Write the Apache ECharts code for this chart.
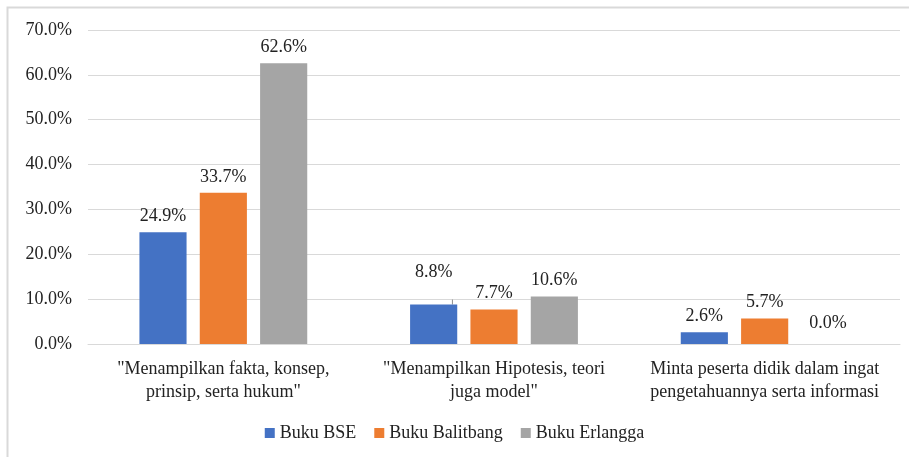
<!DOCTYPE html>
<html>
<head>
<meta charset="utf-8">
<script src="https://cdn.jsdelivr.net/npm/echarts@6/dist/echarts.min.js"></script>
<style>
html, body { margin: 0; padding: 0; background: #fff; }
#main { width: 909px; height: 457px; }
</style>
</head>
<body>
<div id="main"></div>
<script>
var myChart = echarts.init(document.getElementById('main'));

// data
var categories = [
    '"Menampilkan fakta, konsep,\nprinsip, serta hukum"',
    '"Menampilkan Hipotesis, teori\njuga model"',
    'Minta peserta didik dalam ingat\npengetahuannya serta informasi'
];
var seriesNames = ['Buku BSE', 'Buku Balitbang', 'Buku Erlangga'];
var bse = [24.9, 8.8, 2.6];
var balitbang = [33.7, 7.7, 5.7];
var erlangga = [62.6, 10.6, 0.0];
var colors = ['#4472c4', '#ed7d31', '#a5a5a5'];

var font = 'Liberation Serif';

var labelOpt = {
    show: true,
    position: 'top',
    distance: 7,
    color: '#222',
    fontFamily: font,
    fontSize: 18,
    formatter: function (p) { return p.value.toFixed(1) + '%'; }
};

function makeData(values, tweak) {
    return values.map(function (v, i) {
        var item = { value: v };
        if (tweak && tweak[i]) item.label = tweak[i];
        return item;
    });
}

var option = {
    animation: false,
    backgroundColor: '#fff',
    color: colors,
    graphic: [{
        type: 'rect',
        left: 5, top: 5,
        shape: { width: 920, height: 470 },
        style: { fill: 'none', stroke: '#d9d9d9', lineWidth: 2 },
        silent: true
    }],
    grid: {
        left: 88,
        right: 9,
        top: 30,
        bottom: 113
    },
    legend: {
        bottom: 10,
        left: 'center',
        itemWidth: 10,
        itemHeight: 10,
        itemGap: 18,
        icon: 'rect',
        textStyle: { fontFamily: font, fontSize: 18, color: '#222' },
        data: seriesNames
    },
    xAxis: {
        type: 'category',
        data: categories,
        axisLine: { lineStyle: { color: '#d9d9d9', width: 1 } },
        axisTick: { show: false },
        axisLabel: {
            interval: 0,
            margin: 14,
            lineHeight: 23,
            color: '#222',
            fontFamily: font,
            fontSize: 18
        }
    },
    yAxis: {
        type: 'value',
        min: 0,
        max: 70,
        interval: 10,
        axisLine: { show: false },
        axisTick: { show: false },
        splitLine: { lineStyle: { color: '#d9d9d9', width: 1 } },
        axisLabel: {
            margin: 16,
            color: '#222',
            fontFamily: font,
            fontSize: 18,
            formatter: function (v) { return v.toFixed(1) + '%'; }
        }
    },
    series: [{
        name: seriesNames[0],
        type: 'bar',
        barGap: '28%',
        barCategoryGap: '38%',
        label: labelOpt,
        labelLine: { show: true, lineStyle: { color: '#8c8c8c', width: 1 } },
        data: makeData(bse, [null, { offset: [0, -16] }, null])
    }, {
        name: seriesNames[1],
        type: 'bar',
        label: labelOpt,
        data: makeData(balitbang)
    }, {
        name: seriesNames[2],
        type: 'bar',
        label: labelOpt,
        data: makeData(erlangga, [null, null, { offset: [3, -5] }])
    }]
};

myChart.setOption(option);
</script>
</body>
</html>
